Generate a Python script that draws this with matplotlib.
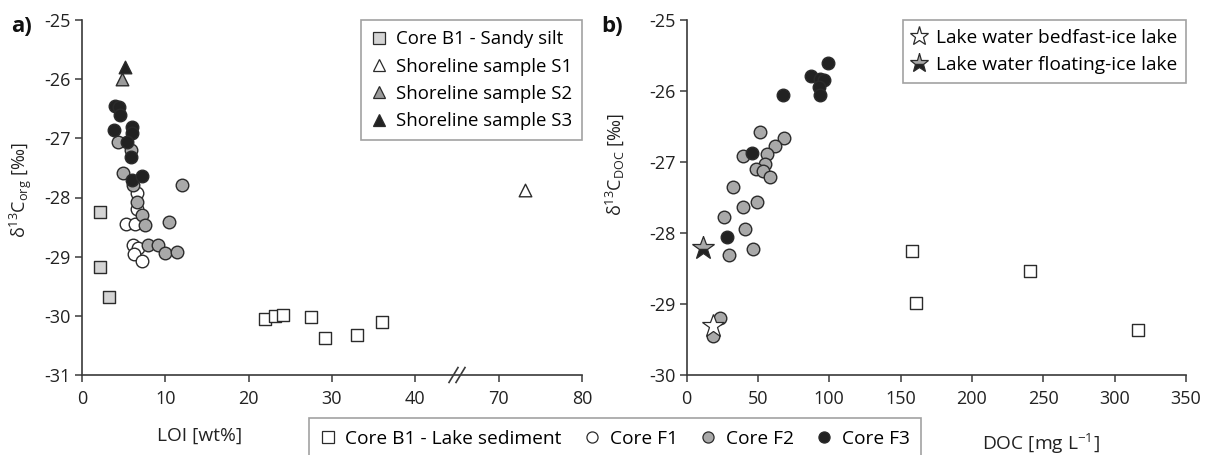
import numpy as np
import matplotlib
matplotlib.use("Agg")
import matplotlib.pyplot as plt
from matplotlib.lines import Line2D

plt.rcParams['font.family'] = ['Open Sans', 'DejaVu Sans']
plt.rcParams['mathtext.fontset'] = 'custom'
plt.rcParams['mathtext.rm'] = 'Open Sans'
plt.rcParams['mathtext.it'] = 'Open Sans'

# ---------------- data: panel a (LOI vs d13C org) ----------------
b1_sandy_loi = [2.2, 2.2, 3.2]
b1_sandy_d13c = [-28.25, -29.18, -29.69]
b1_lake_loi = [21.9, 23.2, 24.1, 27.5, 29.2, 33.0, 36.0]
b1_lake_d13c = [-30.06, -30.01, -29.99, -30.02, -30.38, -30.32, -30.10]
f1_loi = [6.55, 6.6, 5.3, 6.35, 6.15, 6.75, 6.25, 7.25]
f1_d13c = [-27.92, -28.2, -28.45, -28.45, -28.81, -28.86, -28.96, -29.07]
f2_loi = [4.35, 5.9, 4.95, 6.15, 11.95, 6.55, 7.15, 10.4, 7.55, 7.95, 9.15, 10.0, 11.35]
f2_d13c = [-27.07, -27.2, -27.58, -27.79, -27.79, -28.07, -28.29, -28.42, -28.46,
           -28.81, -28.81, -28.94, -28.92]
f3_loi = [3.95, 4.45, 4.55, 3.85, 5.95, 5.95, 5.45, 5.85, 6.05, 7.25]
f3_d13c = [-26.46, -26.47, -26.6, -26.86, -26.81, -26.91, -27.07, -27.31, -27.70, -27.63]
s1_loi, s1_d13c = [73.2], [-27.87]
s2_loi, s2_d13c = [4.75], [-26.0]
s3_loi, s3_d13c = [5.15], [-25.79]

# ---------------- data: panel b (DOC vs d13C DOC) ----------------
b1_lake_doc = [158.1, 161.1, 240.9, 316.3]
b1_lake_d13cdoc = [-28.25, -28.98, -28.53, -29.36]
f2_doc = [51.4, 68.2, 62.0, 39.8, 56.1, 55.0, 48.6, 53.8, 58.4, 32.8, 49.1, 39.8,
          26.5, 41.0, 30.0, 46.8, 23.5, 18.8]
f2_d13cdoc = [-26.58, -26.66, -26.77, -26.91, -26.89, -27.03, -27.10, -27.13, -27.21,
              -27.35, -27.56, -27.63, -27.77, -27.95, -28.31, -28.23, -29.20, -29.45]
f3_doc = [99.3, 87.2, 93.5, 96.5, 93.0, 93.4, 67.8, 45.6, 28.1]
f3_d13cdoc = [-25.60, -25.79, -25.83, -25.84, -25.95, -26.05, -26.05, -26.88, -28.06]
bedfast_doc, bedfast_d13c = [18.8], [-29.31]
floating_doc, floating_d13c = [11.8], [-28.21]

xticks_a = [0, 10, 20, 30, 40, 70, 80]
yticks_a = [-25, -26, -27, -28, -29, -30, -31]
xticks_b = [0, 50, 100, 150, 200, 250, 300, 350]
yticks_b = [-25, -26, -27, -28, -29, -30]

# colours
EDGE = '#2b2b2b'
LIGHT = '#d4d4d4'
GRAY = '#a9a9a9'
BLACK = '#222222'
TRI_GRAY = '#9a9a9a'
SPINE = '#3a3a3a'
TXT = '#222222'

FS_TICK = 13
FS_LAB = 13.8
FS_LEG = 13.4

W, H = 1213, 455
fig = plt.figure(figsize=(W / 100, H / 100), dpi=100)
fig.patch.set_facecolor('white')

def px_axes(x0, x1, ytop, ybot):
    return [x0 / W, 1 - ybot / H, (x1 - x0) / W, (ybot - ytop) / H]

axa = fig.add_axes(px_axes(82, 582, 20, 375))
axb = fig.add_axes(px_axes(686.5, 1186, 20, 375))

# broken-axis scale for panel a: 0-40 linear, 40-70 compressed, 70-80 linear
def fwd(x):
    x = np.asarray(x, dtype=float)
    return np.where(x <= 40, x, np.where(x >= 70, x - 20, 40 + (x - 40) / 3.0))

def inv(u):
    u = np.asarray(u, dtype=float)
    return np.where(u <= 40, u, np.where(u >= 50, u + 20, 40 + (u - 40) * 3.0))

axa.set_xscale('function', functions=(fwd, inv))

MS = 82
LW = 1.0

def style(ax):
    for s in ['top', 'right']:
        ax.spines[s].set_visible(False)
    for s in ['left', 'bottom']:
        ax.spines[s].set_color(SPINE)
        ax.spines[s].set_linewidth(1.2)
    ax.tick_params(axis='both', direction='out', length=5, width=1.1, color=SPINE,
                   labelsize=FS_TICK, labelcolor=TXT)
    ax.tick_params(axis='x', pad=6)
    ax.tick_params(axis='y', pad=3)

def legend_style(leg):
    leg.get_frame().set_edgecolor('#8a8a8a')
    leg.get_frame().set_linewidth(1.2)

# ---- panel a ----
axa.scatter(b1_lake_loi, b1_lake_d13c, s=MS * 0.85, marker='s', facecolor='white',
            edgecolor=EDGE, linewidth=LW, zorder=3)
axa.scatter(b1_sandy_loi, b1_sandy_d13c, s=MS * 0.85, marker='s', facecolor=LIGHT,
            edgecolor=EDGE, linewidth=LW, zorder=3)
axa.scatter(f1_loi, f1_d13c, s=MS, marker='o', facecolor='white', edgecolor=EDGE,
            linewidth=LW, zorder=4)
axa.scatter(f2_loi, f2_d13c, s=MS, marker='o', facecolor=GRAY, edgecolor=EDGE,
            linewidth=LW, zorder=5)
axa.scatter(f3_loi, f3_d13c, s=MS, marker='o', facecolor=BLACK, edgecolor=EDGE,
            linewidth=LW, zorder=6)
axa.scatter(s1_loi, s1_d13c, s=MS, marker='^', facecolor='white', edgecolor=EDGE,
            linewidth=LW, zorder=6)
axa.scatter(s2_loi, s2_d13c, s=MS, marker='^', facecolor=TRI_GRAY, edgecolor=EDGE,
            linewidth=LW, zorder=6)
axa.scatter(s3_loi, s3_d13c, s=MS, marker='^', facecolor=BLACK, edgecolor=EDGE,
            linewidth=LW, zorder=6)

axa.set_xlim(0, 80)
axa.set_ylim(-31, -25)
axa.set_xticks(xticks_a)
axa.set_xticklabels([str(t) for t in xticks_a])
axa.set_yticks(yticks_a)
axa.set_yticklabels([str(t) for t in yticks_a])
axa.minorticks_off()
style(axa)

# break marks
for dx in (-0.007, 0.007):
    axa.plot([0.75 + dx - 0.009, 0.75 + dx + 0.009], [-0.021, 0.021],
             transform=axa.transAxes, color=SPINE, lw=1.2, clip_on=False, zorder=10)

leg_kw = dict(fontsize=FS_LEG, frameon=True, fancybox=False, handlelength=0.8,
              handletextpad=0.5, labelspacing=0.5, borderpad=0.55)

h_sandy = Line2D([], [], ls='none', marker='s', ms=8.5, mfc=LIGHT, mec=EDGE, mew=0.9)
h_s1 = Line2D([], [], ls='none', marker='^', ms=9, mfc='white', mec=EDGE, mew=0.9)
h_s2 = Line2D([], [], ls='none', marker='^', ms=9, mfc=TRI_GRAY, mec=EDGE, mew=0.9)
h_s3 = Line2D([], [], ls='none', marker='^', ms=9, mfc=BLACK, mec=EDGE, mew=0.9)
lega = axa.legend([h_sandy, h_s1, h_s2, h_s3],
                  ['Core B1 - Sandy silt', 'Shoreline sample S1',
                   'Shoreline sample S2', 'Shoreline sample S3'],
                  loc='upper right', bbox_to_anchor=(1.0, 1.0), borderaxespad=0,
                  **leg_kw)
legend_style(lega)

# ---- panel b ----
axb.scatter(b1_lake_doc, b1_lake_d13cdoc, s=MS * 0.85, marker='s', facecolor='white',
            edgecolor=EDGE, linewidth=LW, zorder=3)
axb.scatter(f2_doc, f2_d13cdoc, s=MS, marker='o', facecolor=GRAY, edgecolor=EDGE,
            linewidth=LW, zorder=5)
axb.scatter(f3_doc, f3_d13cdoc, s=MS, marker='o', facecolor=BLACK, edgecolor=EDGE,
            linewidth=LW, zorder=6)
axb.plot(bedfast_doc, bedfast_d13c, ls='none', marker='*', ms=17, mfc='white',
         mec=EDGE, mew=0.9, zorder=7)
axb.plot(floating_doc, floating_d13c, ls='none', marker='*', ms=17, mfc=GRAY,
         mfcalt=BLACK, fillstyle='top', mec=EDGE, mew=0.9, zorder=7)
axb.set_xlim(0, 350)
axb.set_ylim(-30, -25)
axb.set_xticks(xticks_b)
axb.set_yticks(yticks_b)
axb.set_yticklabels([str(t) for t in yticks_b])
style(axb)

h_bed = Line2D([], [], ls='none', marker='*', ms=14, mfc='white', mec=EDGE, mew=0.9)
h_flo = Line2D([], [], ls='none', marker='*', ms=14, mfc=GRAY, mfcalt=BLACK,
               fillstyle='top', mec=EDGE, mew=0.9)
legb = axb.legend([h_bed, h_flo],
                  ['Lake water bedfast-ice lake', 'Lake water floating-ice lake'],
                  loc='upper right', bbox_to_anchor=(1.0, 1.0), borderaxespad=0,
                  **dict(leg_kw, fontsize=13.8, borderpad=0.45, labelspacing=0.5))
legend_style(legb)

# ---- axis labels and panel letters ----
fig.text(200 / W, 1 - 436 / H, 'LOI [wt%]', ha='center', va='center', fontsize=FS_LAB,
         color=TXT)
fig.text(1041 / W, 1 - 444 / H, 'DOC [mg L$^{-1}$]', ha='center', va='center',
         fontsize=FS_LAB, color=TXT)
fig.text(21 / W, 1 - 190 / H, r'δ$^{13}$C$_{\mathregular{org}}$ [‰]', rotation=90,
         ha='center', va='center', fontsize=13, color=TXT)
fig.text(615 / W, 1 - 165 / H, r'δ$^{13}$C$_{\mathregular{DOC}}$ [‰]', rotation=90,
         ha='center', va='center', fontsize=13, color=TXT)
fig.text(22 / W, 1 - 27 / H, 'a)', ha='center', va='center', fontsize=16,
         fontweight='bold', color='#111111')
fig.text(612 / W, 1 - 27 / H, 'b)', ha='center', va='center', fontsize=16,
         fontweight='bold', color='#111111')

# ---- bottom shared legend ----
h_lake = Line2D([], [], ls='none', marker='s', ms=8.5, mfc='white', mec=EDGE, mew=0.9)
h_f1 = Line2D([], [], ls='none', marker='o', ms=8, mfc='white', mec=EDGE, mew=0.9)
h_f2 = Line2D([], [], ls='none', marker='o', ms=8, mfc=GRAY, mec=EDGE, mew=0.9)
h_f3 = Line2D([], [], ls='none', marker='o', ms=8, mfc=BLACK, mec=EDGE, mew=0.9)
legc = fig.legend([h_lake, h_f1, h_f2, h_f3],
                  ['Core B1 - Lake sediment', 'Core F1', 'Core F2', 'Core F3'],
                  loc='upper center', bbox_to_anchor=(615 / W, 1 - 418 / H), ncol=4,
                  columnspacing=1.2, borderaxespad=0,
                  **dict(leg_kw, fontsize=13.8, borderpad=0.6))
legend_style(legc)

fig.savefig('out.png', dpi=100, facecolor='white')
